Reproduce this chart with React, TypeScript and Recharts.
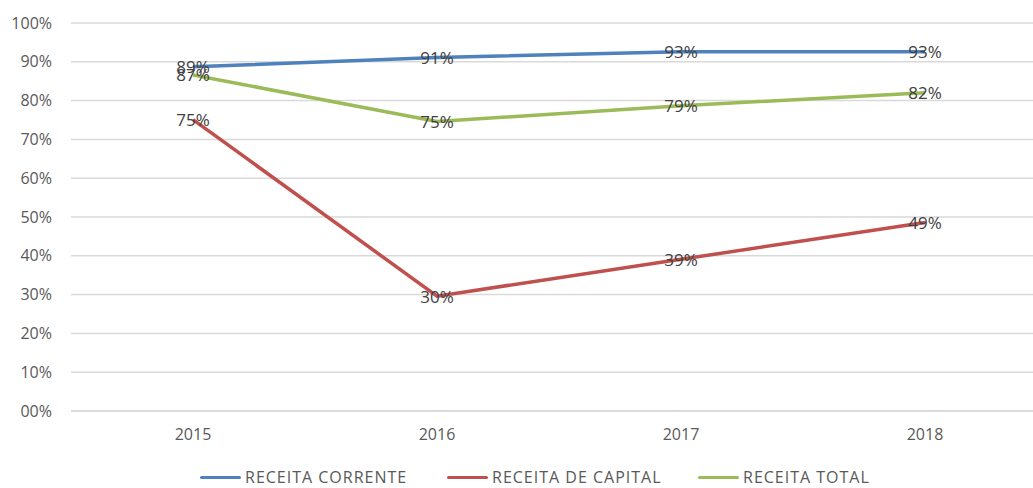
import React from 'react';
import { LineChart, Line, XAxis, YAxis, CartesianGrid, Legend, LabelList } from 'recharts';

const years = ['2015', '2016', '2017', '2018'];
const receitaCorrente = [88.7, 91.1, 92.6, 92.6];
const receitaCapital = [75.1, 29.6, 39.1, 48.6];
const receitaTotal = [86.6, 74.6, 78.7, 82.0];
const yTicks = [0, 10, 20, 30, 40, 50, 60, 70, 80, 90, 100];
const yTickLabels = ['00%', '10%', '20%', '30%', '40%', '50%', '60%', '70%', '80%', '90%', '100%'];

const seriesNames = ['RECEITA CORRENTE', 'RECEITA DE CAPITAL', 'RECEITA TOTAL'];
const seriesKeys = ['corrente', 'capital', 'total'];
const seriesColors = ['#4f81bd', '#c0504d', '#9bbb59'];

const data = years.map((y, i) => ({
  year: y,
  corrente: receitaCorrente[i],
  capital: receitaCapital[i],
  total: receitaTotal[i],
}));

const FONT = '"Open Sans", sans-serif';

const CenterLabel = (props: any) => {
  const { x, y, value } = props;
  return (
    <text
      x={x}
      y={y}
      textAnchor="middle"
      dominantBaseline="central"
      fill="#404040"
      fontSize={17}
      fontFamily={FONT}
    >
      {Math.round(value) + '%'}
    </text>
  );
};

const legendLefts = [200, 447, 698];

const LegendContent = () => (
  <div style={{ position: 'relative', height: 20, width: '100%' }}>
    {seriesNames.map((n, i) => (
      <div
        key={n}
        style={{
          position: 'absolute',
          left: legendLefts[i],
          top: 0,
          height: 20,
          display: 'flex',
          alignItems: 'center',
          whiteSpace: 'nowrap',
        }}
      >
        <div style={{ width: 41, height: 3, background: seriesColors[i], borderRadius: 2 }} />
        <span style={{ marginLeft: 4, fontFamily: FONT, fontSize: 16, letterSpacing: 1, color: '#595959' }}>{n}</span>
      </div>
    ))}
  </div>
);

export default function App() {
  return (
    <div
      style={{
        position: 'fixed',
        left: 0,
        top: 0,
        width: 1033,
        height: 488,
        overflow: 'hidden',
        background: '#fff',
      }}
    >
      <LineChart
        width={1047}
        height={488}
        data={data}
        margin={{ top: 23, right: 0, bottom: 1, left: 0 }}
      >
        <CartesianGrid horizontal vertical={false} stroke="#d9d9d9" strokeWidth={1.5} />
        <XAxis
          dataKey="year"
          height={56}
          padding={{ left: 122, right: 122 }}
          axisLine={{ stroke: '#d9d9d9', strokeWidth: 1.5 }}
          tickLine={false}
          tickSize={0}
          tickMargin={18}
          tick={{ fill: '#595959', fontSize: 16, fontFamily: FONT }}
        />
        <YAxis
          width={71}
          domain={[0, 100]}
          ticks={yTicks}
          interval={0}
          axisLine={false}
          tickLine={false}
          tickSize={0}
          tickMargin={19}
          tickFormatter={(v: number) => yTickLabels[yTicks.indexOf(v)]}
          tick={{ fill: '#595959', fontSize: 16, fontFamily: FONT }}
        />
        <Legend verticalAlign="bottom" content={<LegendContent />} wrapperStyle={{ left: 0, width: 1047 }} />
        {seriesKeys.map((k, i) => (
          <Line
            key={k}
            type="linear"
            dataKey={k}
            name={seriesNames[i]}
            stroke={seriesColors[i]}
            strokeWidth={3.5}
            dot={false}
            activeDot={false}
            isAnimationActive={false}
          >
            <LabelList dataKey={k} content={<CenterLabel />} />
          </Line>
        ))}
      </LineChart>
    </div>
  );
}
